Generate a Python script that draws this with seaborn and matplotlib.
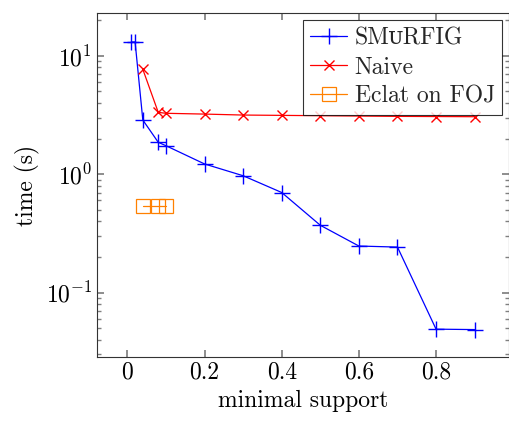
import numpy as np
import pandas as pd
import seaborn as sns
import matplotlib
matplotlib.use("Agg")
import matplotlib.pyplot as plt
from matplotlib.ticker import LogLocator, NullFormatter

sns.set_theme(style="ticks")
plt.rcParams['font.family'] = ['cmr10', 'DejaVu Serif']
plt.rcParams['mathtext.fontset'] = 'cm'
plt.rcParams['axes.formatter.use_mathtext'] = True

# values
smurfig_x = [0.01, 0.02, 0.04, 0.08, 0.1, 0.2, 0.3, 0.4, 0.5, 0.6, 0.7, 0.8, 0.9]
smurfig_t = [13.1, 13.1, 2.87, 1.86, 1.74, 1.22, 0.97, 0.70, 0.37, 0.247, 0.242, 0.049, 0.0486]
naive_x = [0.04, 0.08, 0.1, 0.2, 0.3, 0.4, 0.5, 0.6, 0.7, 0.8, 0.9]
naive_t = [7.7, 3.33, 3.27, 3.22, 3.16, 3.14, 3.12, 3.1, 3.08, 3.07, 3.06]
eclat_x = [0.04, 0.08, 0.1]
eclat_t = [0.54, 0.54, 0.54]

fig = plt.figure(figsize=(5.1, 4.21), dpi=100)
ax = fig.add_axes([0.19, 0.152, 0.808, 0.817])

blue, red, orange = "#0000ff", "#ff0000", "#ff8000"
sns.lineplot(x=smurfig_x, y=smurfig_t, ax=ax, color=blue, marker="+", markersize=11,
             markeredgewidth=1.0, markeredgecolor=blue, linewidth=0.9, label="SMᴜRFIG")
sns.lineplot(x=naive_x, y=naive_t, ax=ax, color=red, marker="x", markersize=7,
             markeredgewidth=1.0, markeredgecolor=red, linewidth=0.9, label="Naive")
sns.lineplot(x=eclat_x, y=eclat_t, ax=ax, color=orange, marker="s", markersize=9.5,
             fillstyle="none", markeredgewidth=0.9, markeredgecolor=orange,
             linewidth=0.9, label="Eclat on FOJ")

ax.set_yscale("log")
ax.set_xlim(-0.079, 0.989)
ax.set_ylim(0.0285, 23.0)
ax.set_xticks([0, 0.2, 0.4, 0.6, 0.8])
ax.set_xticklabels(["0", "0.2", "0.4", "0.6", "0.8"])
ax.yaxis.set_major_locator(LogLocator(base=10, numticks=10))
ax.yaxis.set_minor_locator(LogLocator(base=10, subs=np.arange(2, 10), numticks=20))
ax.yaxis.set_minor_formatter(NullFormatter())

ax.tick_params(which="both", direction="in", top=True, right=True, colors="#808080",
               labelcolor="black", labelsize=17)
ax.tick_params(which="major", length=5)
ax.tick_params(which="minor", length=3)
for s in ax.spines.values():
    s.set_color("#333333")
    s.set_linewidth(0.8)

ax.set_xlabel("minimal support", fontsize=17, color="black")
ax.set_ylabel("time (s)", fontsize=17, color="black")

leg = ax.legend(loc="upper right", fontsize=17, frameon=True, fancybox=False,
                borderaxespad=0.3, handlelength=1.6, handletextpad=0.3,
                borderpad=0.3, labelspacing=0.3)
leg.get_frame().set_edgecolor("black")
leg.get_frame().set_linewidth(0.8)

fig.savefig("out.png", dpi=100)
